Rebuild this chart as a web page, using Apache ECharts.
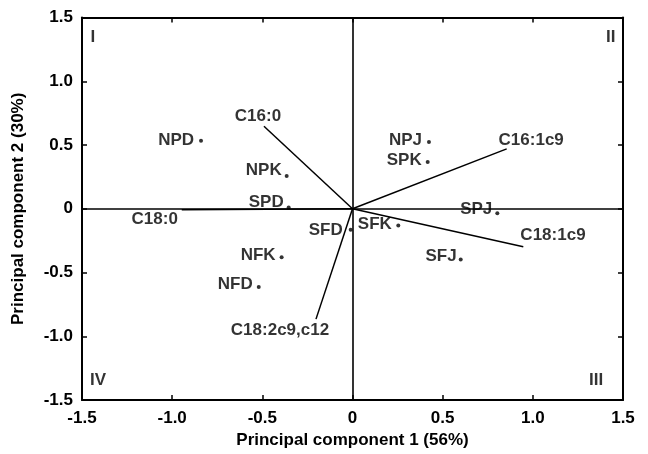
<!DOCTYPE html>
<html>
<head>
<meta charset="utf-8">
<script src="https://cdn.jsdelivr.net/npm/echarts@6/dist/echarts.min.js"></script>
<style>html,body{margin:0;padding:0;background:#fff}#c{width:648px;height:454px}</style>
</head>
<body>
<div id="c"></div>
<script>
// ---- data ----
var sampleNames = ['NPD','NPK','SPD','SFD','NFK','NFD','NPJ','SPK','SPJ','SFK','SFJ'];
var sampleX = [-0.84,-0.365,-0.354,-0.01,-0.393,-0.52,0.424,0.417,0.803,0.254,0.60];
var sampleY = [0.533,0.258,0.01,-0.165,-0.38,-0.613,0.523,0.367,-0.035,-0.13,-0.398];

var vectorNames = ['C16:0','C18:0','C16:1c9','C18:1c9','C18:2c9,c12'];
var vectorX = [-0.491,-0.947,0.855,0.947,-0.2025];
var vectorY = [0.647,-0.008,0.47,-0.297,-0.865];

var quadrantNames = ['I','II','III','IV'];
var quadrantX = [-1.44,1.432,1.351,-1.411];
var quadrantY = [1.342,1.342,-1.342,-1.342];

var axisTicks = [-1.5,-1.0,-0.5,0,0.5,1.0,1.5];
var xAxisTitle = 'Principal component 1 (56%)';
var yAxisTitle = 'Principal component 2 (30%)';

// ---- label layout (styles only) ----
var sampleLabelDy = {NPD:-1,NPK:-6,SPD:-5.5,SFD:0,NFK:-1.5,NFD:-3,NPJ:-1.5,SPK:-1.5,SPJ:-4,SFK:-1.3,SFJ:-3.4};
var sampleLabelDist = {NPD:5,NPK:3,SPD:3,SFD:6,NFK:4,NFD:4,NPJ:5,SPK:4,SPJ:3,SFK:4.5,SFJ:2};
var vectorLabelOffset = {'C16:0':[-6,-9.5],'C18:0':[-27,9],'C16:1c9':[24.5,-8.5],'C18:1c9':[29.7,-11],'C18:2c9,c12':[-36,11.3]};

var FONT = 'Arial, "Liberation Sans", Helvetica, sans-serif';
var FS = 17;
var labelText = {color:'#000',fontFamily:FONT,fontWeight:'bold',fontSize:FS};

function fmt(v){ return v === 0 ? '0' : v.toFixed(1); }

var series = [];
// vectors
vectorNames.forEach(function(n,i){
  series.push({
    type:'line', name:n, silent:true, symbol:'none', animation:false,
    lineStyle:{color:'#000',width:1.5},
    data:[[0,0],[vectorX[i],vectorY[i]]]
  });
});
// vector tip labels
series.push({
  type:'scatter', symbolSize:0, silent:true, animation:false,
  data: vectorNames.map(function(n,i){
    return {value:[vectorX[i],vectorY[i]], name:n,
      label:Object.assign({show:true,position:'inside',align:'center',verticalAlign:'middle',
        offset:vectorLabelOffset[n],formatter:n},labelText)};
  })
});
// samples
series.push({
  type:'scatter', symbol:'circle', symbolSize:4, silent:true, animation:false,
  itemStyle:{color:'#000'},
  data: sampleNames.map(function(n,i){
    return {value:[sampleX[i],sampleY[i]], name:n,
      label:Object.assign({show:true,position:'left',distance:sampleLabelDist[n],
        offset:[0,sampleLabelDy[n]],formatter:n},labelText)};
  }),
  markLine:{
    silent:true, symbol:'none', animation:false,
    label:{show:false},
    lineStyle:{color:'#000',width:1.6,type:'solid'},
    data:[{xAxis:0},{yAxis:0}]
  }
});
// quadrant labels
series.push({
  type:'scatter', symbolSize:0, silent:true, animation:false,
  data: quadrantNames.map(function(n,i){
    return {value:[quadrantX[i],quadrantY[i]], name:n,
      label:Object.assign({show:true,position:'inside',align:'center',verticalAlign:'middle',formatter:n},labelText)};
  })
});

var axisCommon = {
  type:'value', min:axisTicks[0], max:axisTicks[axisTicks.length-1], interval:0.5,
  axisLine:{show:true,onZero:false,lineStyle:{color:'#000',width:2}},
  axisTick:{show:true,inside:true,length:5,lineStyle:{color:'#000',width:1.5}},
  splitLine:{show:false}
};

var chart = echarts.init(document.getElementById('c'),null,{renderer:'canvas'});
chart.setOption({
  backgroundColor:'#fff',
  animation:false,
  grid:{left:82,right:25,top:17.5,bottom:51,containLabel:false},
  xAxis:[
    Object.assign({}, axisCommon, {position:'bottom',
      name:xAxisTitle, nameLocation:'middle', nameGap:29,
      nameTextStyle:{color:'#000',fontFamily:FONT,fontWeight:'bold',fontSize:FS},
      axisLabel:{show:true,margin:10,color:'#000',fontFamily:FONT,fontWeight:'bold',fontSize:FS,formatter:fmt}}),
    Object.assign({}, axisCommon, {position:'top', axisLabel:{show:false}})
  ],
  yAxis:[
    Object.assign({}, axisCommon, {position:'left',
      name:yAxisTitle, nameLocation:'middle', nameGap:55, nameRotate:90,
      nameTextStyle:{color:'#000',fontFamily:FONT,fontWeight:'bold',fontSize:FS},
      axisLabel:{show:true,margin:9,color:'#000',fontFamily:FONT,fontWeight:'bold',fontSize:FS,formatter:fmt}}),
    Object.assign({}, axisCommon, {position:'right', axisLabel:{show:false}})
  ],
  series:series
});
</script>
</body>
</html>
